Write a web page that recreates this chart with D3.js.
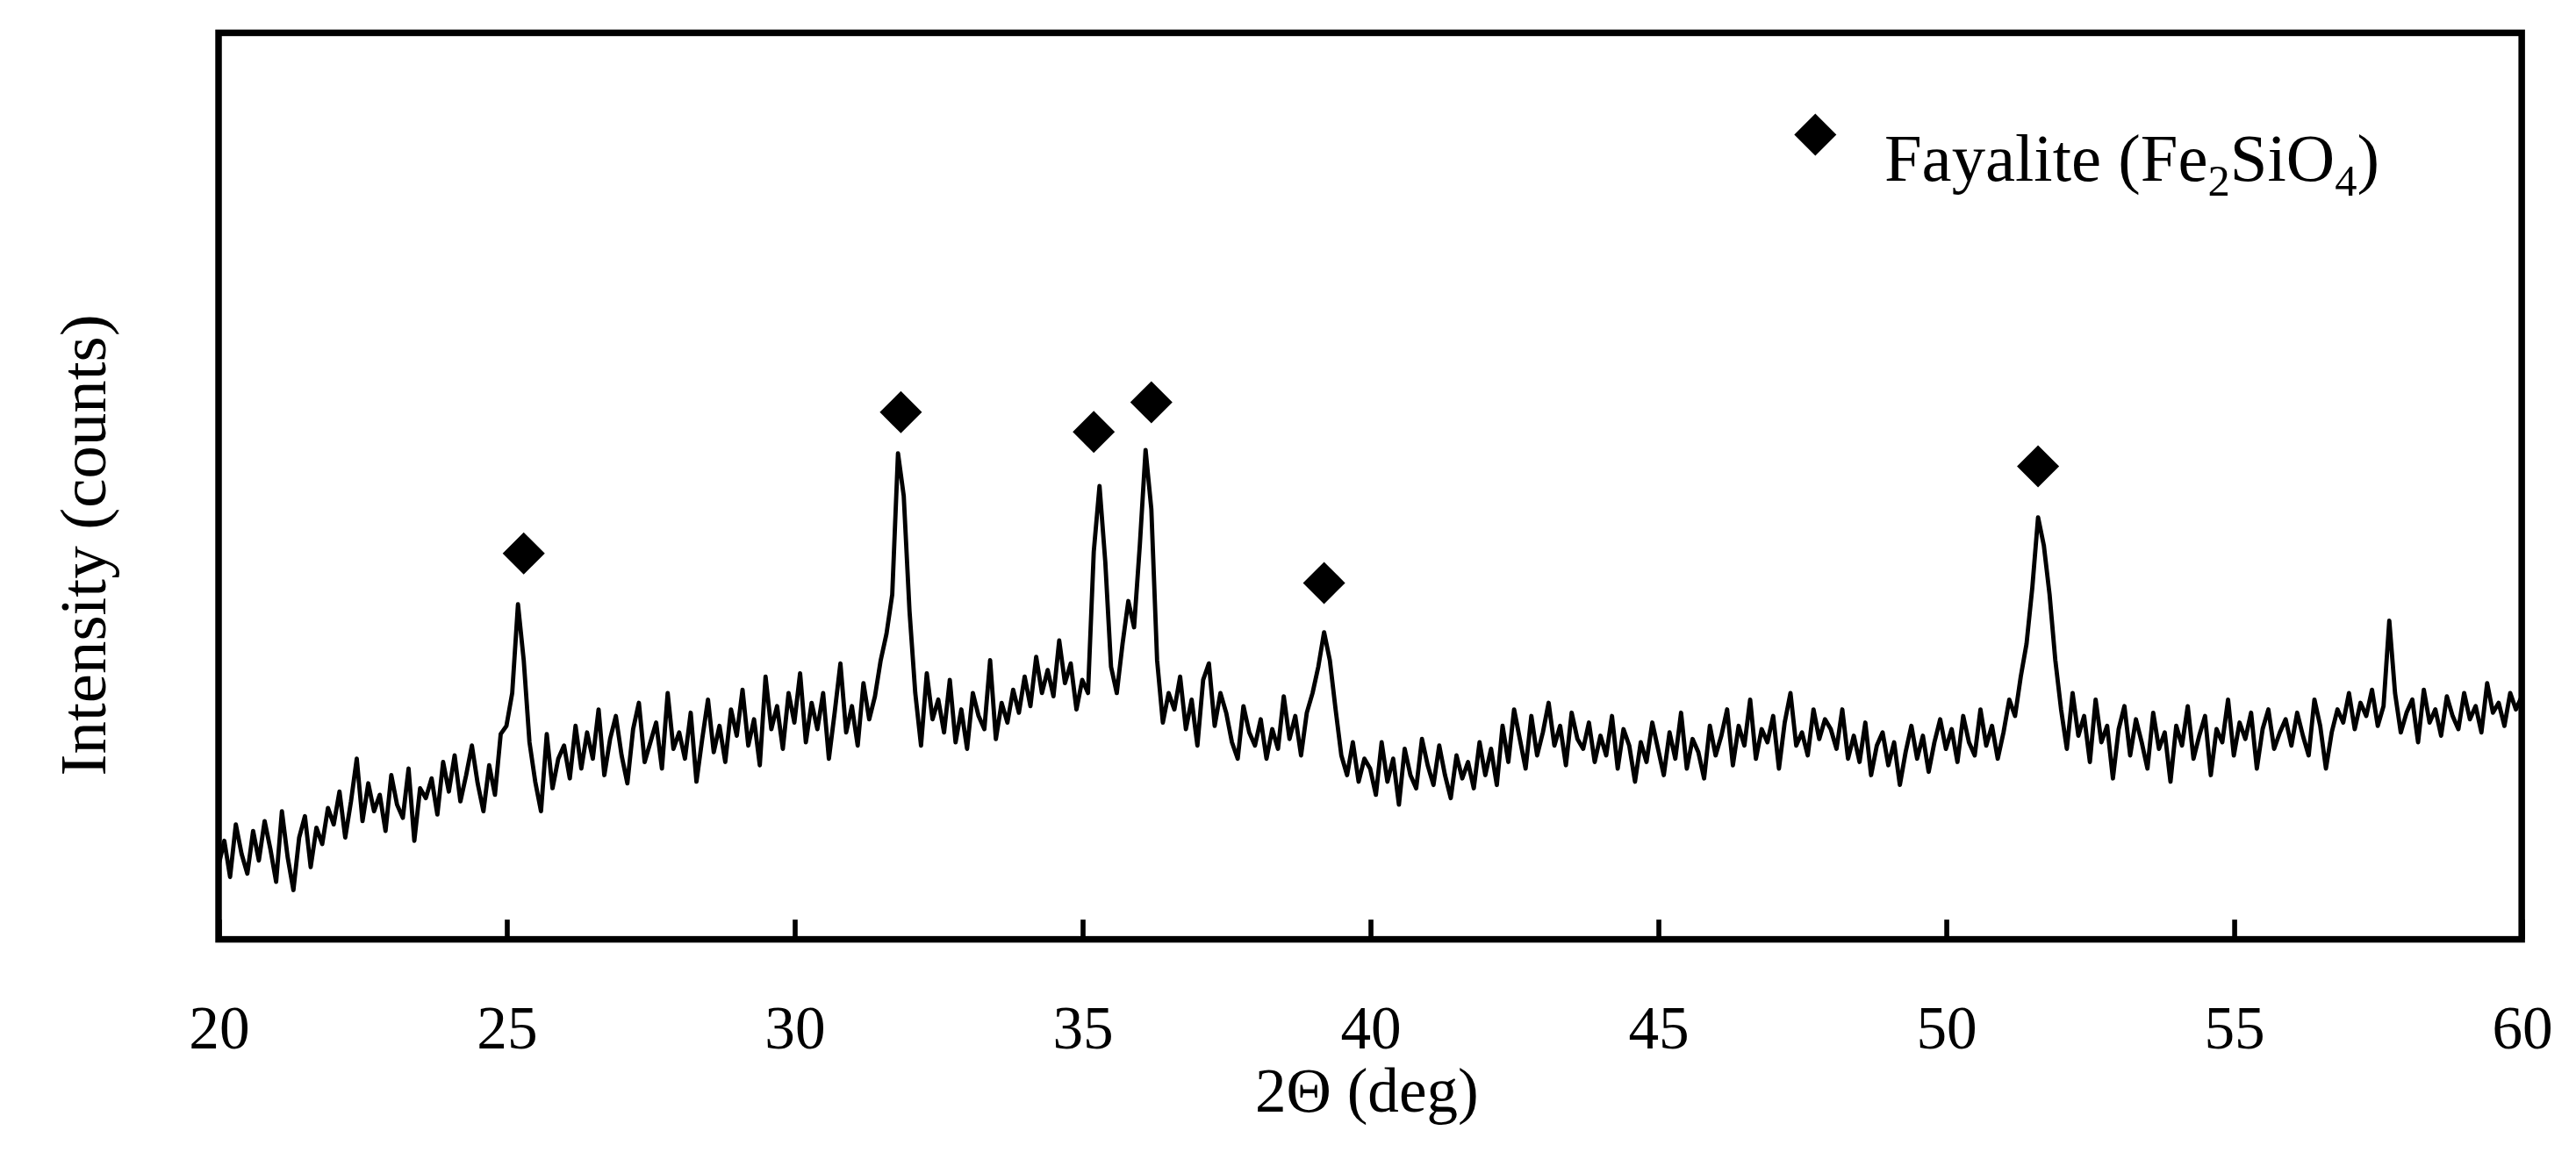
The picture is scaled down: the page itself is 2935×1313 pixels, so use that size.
<!DOCTYPE html>
<html><head><meta charset="utf-8">
<script src="https://cdn.jsdelivr.net/npm/d3@7"></script>
<style>body{margin:0;background:#fff}svg{display:block}text{font-family:"Liberation Serif","DejaVu Serif",serif}</style>
</head><body>
<script>
// intensity, 0.1 deg steps from 20 to 60
const intensity = [
45,60,38,70,52,40,66,48,72,55,35,78,50,30,62,75,44,68,58,80,
70,90,62,84,110,72,95,78,88,66,100,82,74,104,60,92,86,98,76,108,
90,112,84,100,118,95,78,106,88,125,130,150,204,170,120,96,78,125,92,110,
118,98,130,104,126,110,140,100,122,136,112,95,128,144,108,120,132,104,150,116,
126,110,138,96,122,146,114,130,108,140,124,152,118,134,106,160,128,142,116,150,
132,162,120,144,128,150,110,138,168,126,142,118,156,134,148,170,186,210,296,270,
200,150,118,162,134,146,126,158,120,140,116,150,136,128,170,122,144,132,152,138,
160,142,172,150,164,148,182,156,168,140,158,150,236,276,230,166,150,180,206,190,
240,298,262,170,132,150,140,160,128,146,118,158,168,130,150,138,120,110,142,126,
118,134,110,128,116,148,122,136,112,138,150,166,187,170,140,112,100,120,96,110,
104,88,120,96,110,82,116,100,92,122,106,94,118,100,86,112,98,108,92,120,
100,116,94,130,108,140,122,104,136,112,126,144,118,130,106,138,122,116,132,108,
124,112,136,104,128,118,96,120,108,132,116,100,126,110,138,104,122,114,98,130,
112,124,140,106,130,118,146,110,128,120,136,104,132,150,118,126,112,140,122,134,
128,116,140,110,124,108,132,100,118,126,106,120,94,114,130,110,124,102,120,134,
116,128,108,136,120,112,140,118,130,110,126,146,136,160,180,214,257,240,210,170,
140,116,150,124,136,108,146,120,130,98,128,142,112,134,120,104,138,116,126,96,
130,118,142,110,124,136,100,128,120,146,112,132,122,138,104,128,140,116,126,134,
118,138,124,112,146,130,104,126,140,132,150,128,144,136,152,130,142,194,150,126,
138,146,120,152,132,140,124,148,136,128,150,134,142,126,156,138,144,130,150,140,148
];
const peakPos = [25.3, 31.85, 35.2, 36.2, 39.2, 51.6];
const peakMark = [235, 321, 309, 327, 217, 288];
const xTicks = [20, 25, 30, 35, 40, 45, 50, 55, 60];

const W = 1568, H = 701.5;
const svg = d3.select("body").append("svg")
  .attr("width", 2935).attr("height", 1313)
  .attr("viewBox", `0 0 ${W} ${H}`);

const mL = 133, mR = 1535, mT = 20, mB = 572;
const x = d3.scaleLinear().domain([20, 60]).range([mL, mR]);
const y = d3.scaleLinear().domain([0, 552]).range([mB, mT]);

const pts = intensity.map((v, i) => [20 + i * 0.1, v]);
svg.append("path").datum(pts)
  .attr("fill", "none").attr("stroke", "#000").attr("stroke-width", 2.6)
  .attr("stroke-linejoin", "round")
  .attr("d", d3.line().x(d => x(d[0])).y(d => y(d[1])));

const diamond = d3.symbol().type(d3.symbolDiamond2).size(420);
svg.selectAll(".pk").data(peakPos).join("path")
  .attr("transform", (d, i) => `translate(${x(d)},${y(peakMark[i])})`)
  .attr("d", diamond).attr("fill", "#000");

const xAxis = d3.axisBottom(x).tickValues(xTicks).tickSize(-12).tickPadding(40);
const gx = svg.append("g").attr("transform", `translate(0,${mB})`).call(xAxis);
gx.select(".domain").remove();
gx.selectAll(".tick line").attr("stroke-width", 3);
gx.selectAll(".tick text").attr("font-size", 37).attr("font-family", "Liberation Serif").attr("fill", "#000");

svg.append("rect").attr("x", mL).attr("y", mT)
  .attr("width", mR - mL).attr("height", mB - mT)
  .attr("fill", "none").attr("stroke", "#000").attr("stroke-width", 4);

svg.append("text").attr("x", 832).attr("y", 677)
  .attr("text-anchor", "middle").attr("font-size", 38).text("2Θ (deg)");
svg.append("text").attr("transform", `translate(64,332) rotate(-90)`)
  .attr("text-anchor", "middle").attr("font-size", 40).text("Intensity (counts)");

// legend
svg.append("path").attr("transform", "translate(1105,82)").attr("d", diamond).attr("fill", "#000");
const lt = svg.append("text").attr("x", 1147).attr("y", 110).attr("font-size", 41);
lt.append("tspan").text("Fayalite (Fe");
lt.append("tspan").attr("font-size", 27).attr("dy", 9).text("2");
lt.append("tspan").attr("dy", -9).text("SiO");
lt.append("tspan").attr("font-size", 27).attr("dy", 9).text("4");
lt.append("tspan").attr("dy", -9).text(")");
</script>
</body></html>
